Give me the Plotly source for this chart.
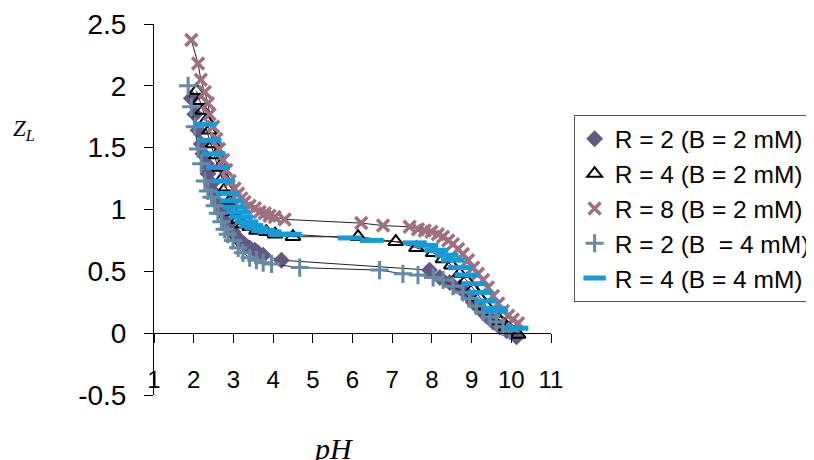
import plotly.graph_objects as go

# ---- data ----
r2b2_x = [1.94, 2.03, 2.11, 2.19, 2.23, 2.32, 2.36, 2.45, 2.53, 2.61, 2.74, 2.86, 2.99, 3.08, 3.16, 3.28, 3.41, 3.54, 3.62, 3.75, 4.21,
          7.94, 8.20, 8.45, 8.70, 8.87, 9.04, 9.20, 9.37, 9.54, 9.71, 9.88, 10.13]
r2b2_y = [1.90, 1.77, 1.64, 1.53, 1.45, 1.37, 1.29, 1.21, 1.13, 1.05, 0.97, 0.88, 0.82, 0.78, 0.75, 0.72, 0.69, 0.67, 0.65, 0.63, 0.59,
          0.51, 0.45, 0.41, 0.37, 0.32, 0.25, 0.20, 0.14, 0.09, 0.05, 0.02, -0.03]

r4b2_x = [2.07, 2.15, 2.23, 2.32, 2.40, 2.49, 2.57, 2.65, 2.74, 2.82, 2.91, 2.99, 3.12, 3.24, 3.41, 3.58, 3.83, 4.05, 4.50,
          6.14, 7.09, 7.61, 8.03, 8.28, 8.49, 8.70, 8.87, 9.04, 9.20, 9.37, 9.54, 9.71, 9.88, 10.17]
r4b2_y = [1.96, 1.88, 1.80, 1.72, 1.64, 1.53, 1.44, 1.34, 1.26, 1.18, 1.07, 0.98, 0.92, 0.88, 0.86, 0.83, 0.82, 0.80, 0.78,
          0.78, 0.74, 0.69, 0.65, 0.60, 0.55, 0.48, 0.43, 0.36, 0.29, 0.22, 0.16, 0.10, 0.05, -0.01]

r8b2_x = [1.94, 2.11, 2.18, 2.28, 2.36, 2.40, 2.49, 2.57, 2.64, 2.74, 2.82, 2.91, 3.03, 3.12, 3.20, 3.28, 3.41, 3.54, 3.66, 3.79, 3.91, 4.04, 4.29,
          6.22, 6.77, 7.44, 7.65, 7.82, 7.99, 8.15, 8.28, 8.41, 8.53, 8.66, 8.78, 8.91, 9.04, 9.16, 9.29, 9.41, 9.54, 9.67, 9.79, 9.92, 10.04, 10.17]
r8b2_y = [2.37, 2.18, 2.05, 1.95, 1.86, 1.77, 1.67, 1.57, 1.49, 1.40, 1.32, 1.23, 1.17, 1.13, 1.09, 1.06, 1.03, 1.01, 0.98, 0.97, 0.95, 0.94, 0.92,
          0.89, 0.87, 0.86, 0.84, 0.83, 0.82, 0.80, 0.78, 0.75, 0.72, 0.68, 0.64, 0.59, 0.53, 0.48, 0.43, 0.37, 0.30, 0.24, 0.18, 0.14, 0.11, 0.08]

r2b4_x = [1.86, 1.94, 2.03, 2.11, 2.19, 2.28, 2.36, 2.45, 2.53, 2.61, 2.70, 2.78, 2.86, 2.99, 3.12, 3.24, 3.41, 3.58, 3.75, 3.96, 4.67,
          6.68, 7.27, 7.65, 8.03, 8.28, 8.53, 8.78, 8.95, 9.12, 9.29, 9.46, 9.62, 9.79, 9.96]
r2b4_y = [2.00, 1.83, 1.67, 1.49, 1.37, 1.23, 1.15, 1.10, 1.03, 0.97, 0.90, 0.84, 0.80, 0.75, 0.69, 0.65, 0.61, 0.59, 0.57, 0.56, 0.53,
          0.51, 0.48, 0.47, 0.45, 0.43, 0.38, 0.33, 0.28, 0.22, 0.17, 0.13, 0.09, 0.05, 0.02]

r4b4_x = [2.28, 2.40, 2.50, 2.61, 2.74, 2.86, 2.95, 3.03, 3.12, 3.20, 3.33, 3.45, 3.58, 3.75, 3.91, 4.17, 4.42,
          5.93, 6.48, 7.57, 7.86, 8.11, 8.37, 8.53, 8.70, 8.87, 9.04, 9.20, 9.37, 9.54, 9.62, 10.13]
r4b4_y = [1.69, 1.56, 1.45, 1.34, 1.23, 1.13, 1.07, 1.02, 0.98, 0.94, 0.90, 0.87, 0.85, 0.83, 0.82, 0.80, 0.80,
          0.77, 0.75, 0.73, 0.71, 0.67, 0.63, 0.59, 0.53, 0.47, 0.40, 0.33, 0.26, 0.20, 0.18, 0.04]

names = ["R = 2 (B = 2 mM)", "R = 4 (B = 2 mM)", "R = 8 (B = 2 mM)",
         "R = 2 (B\u00a0 = 4 mM)", "R = 4 (B = 4 mM)"]
x_ticks = [1, 2, 3, 4, 5, 6, 7, 8, 9, 10, 11]
y_ticks = [-0.5, 0, 0.5, 1, 1.5, 2, 2.5]
y_ticktext = ["-0.5", "0", "0.5", "1", "1.5", "2", "2.5"]

series = [
    (r2b2_x, r2b2_y, dict(symbol="diamond", size=13, color="#625880", line=dict(width=0))),
    (r4b2_x, r4b2_y, dict(symbol="triangle-up-open", size=13, color="black", line=dict(width=2, color="black"))),
    (r8b2_x, r8b2_y, dict(symbol="x-thin", size=12, color="#A06F80", line=dict(width=3.5, color="#A06F80"))),
    (r2b4_x, r2b4_y, dict(symbol="cross-thin", size=13, color="#668AA5", line=dict(width=3, color="#668AA5"))),
    (r4b4_x, r4b4_y, dict(symbol="line-ew", size=17, color="#169BD8", line=dict(width=5, color="#169BD8"))),
]

fig = go.Figure()
for i, (xs, ys, mk) in enumerate(series):
    fig.add_trace(go.Scatter(x=xs, y=ys, mode="lines", line=dict(color="#222222", width=1),
                             showlegend=False, hoverinfo="skip", legendgroup=str(i)))
    fig.add_trace(go.Scatter(x=xs, y=ys, mode="markers", marker=mk, name=names[i], legendgroup=str(i)))

# page body has an 8px default margin, so the figure is 8px smaller than the window
fig.update_layout(
    width=806, height=452,
    margin=dict(l=146, r=263, t=16, b=65, autoexpand=False),
    paper_bgcolor="white", plot_bgcolor="white",
    font=dict(family="Liberation Sans, Arial, sans-serif", color="black"),
    showlegend=True,
    legend=dict(x=1.057, y=0.754, xanchor="left", yanchor="top",
                bordercolor="#555555", borderwidth=1, bgcolor="white",
                font=dict(size=24.5, family="Liberation Sans, Arial, sans-serif", color="black"),
                tracegroupgap=0),
    xaxis=dict(range=[1, 11], tickvals=x_ticks, anchor="free", position=1/6,
               showline=True, linecolor="black", linewidth=1, ticks="outside", ticklen=9,
               tickcolor="black", showgrid=False, zeroline=False,
               tickfont=dict(size=24), ticklabelstandoff=16),
    yaxis=dict(range=[-0.5, 2.5], tickvals=y_ticks, ticktext=y_ticktext,
               showline=True, linecolor="black", linewidth=1, ticks="outside", ticklen=9,
               tickcolor="black", showgrid=False, zeroline=False,
               tickfont=dict(size=28), ticklabelstandoff=12),
    annotations=[
        dict(text="<i>Z<sub>L</sub></i>", xref="paper", yref="paper", x=-0.327, y=0.714,
             xanchor="center", yanchor="middle", showarrow=False,
             font=dict(family="Liberation Serif, Times New Roman, serif", size=23)),
        dict(text="<i>pH</i>", xref="paper", yref="paper", x=0.451, y=-0.094,
             xanchor="center", yanchor="top", showarrow=False,
             font=dict(family="Liberation Serif, Times New Roman, serif", size=30)),
    ],
)

fig.write_html("out.html")
